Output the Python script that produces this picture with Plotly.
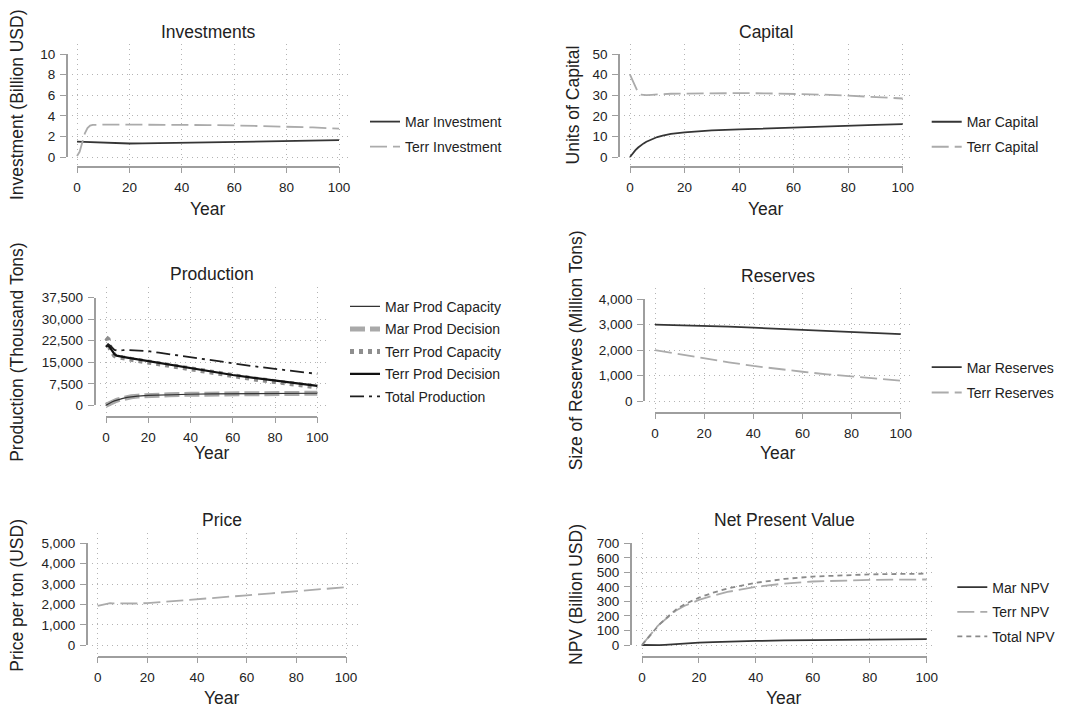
import plotly.graph_objects as go

W, H = 1071, 707
FONT = "Liberation Sans, Arial, sans-serif"

# ---------------- data ----------------
YEARS = [0, 1, 2, 3, 4, 5, 6, 8, 10, 12, 15, 20, 25, 30, 40, 50, 60, 70, 80, 90, 100]
X_TICKS = [0, 20, 40, 60, 80, 100]

MAR_INVEST = [1.50, 1.49, 1.47, 1.45, 1.43, 1.41, 1.40, 1.37, 1.35, 1.33, 1.32, 1.31, 1.32, 1.34,
              1.38, 1.43, 1.47, 1.51, 1.55, 1.59, 1.63]
TERR_INVEST = [0.10, 0.50, 1.40, 2.30, 2.80, 3.05, 3.12, 3.15, 3.15, 3.15, 3.15, 3.15, 3.15, 3.14,
               3.13, 3.10, 3.07, 3.02, 2.95, 2.87, 2.75]

MAR_CAPITAL = [0.0, 1.8, 3.3, 4.6, 5.7, 6.6, 7.4, 8.7, 9.7, 10.4, 11.2, 12.0, 12.5, 12.9,
               13.4, 13.9, 14.4, 14.8, 15.2, 15.6, 16.0]
TERR_CAPITAL = [40.0, 37.0, 33.5, 31.2, 30.3, 30.0, 30.0, 30.2, 30.4, 30.5, 30.7, 30.8, 30.9, 31.0,
                31.0, 30.9, 30.7, 30.3, 29.8, 29.2, 28.4]

MAR_PROD_CAP = [0, 500, 900, 1250, 1550, 1800, 2000, 2400, 2750, 2950, 3200, 3450, 3600, 3700,
                3850, 3950, 4000, 4050, 4100, 4150, 4200]
MAR_PROD_DEC = [0, 450, 850, 1200, 1500, 1750, 1980, 2380, 2730, 2950, 3200, 3450, 3600, 3700,
                3850, 3950, 4000, 4050, 4100, 4150, 4200]
TERR_PROD_CAP = [23600, 23000, 19800, 18300, 17400, 17000, 16800, 16500, 16250, 16000, 15650, 15050,
                 14400, 13750, 12550, 11350, 10200, 9200, 8250, 7300, 6400]
TERR_PROD_DEC = [20400, 21000, 20000, 18800, 17800, 17300, 17100, 16850, 16600, 16350, 16000, 15400,
                 14750, 14100, 12900, 11700, 10560, 9550, 8600, 7650, 6750]
TOTAL_PROD = [20400, 21300, 20800, 20000, 19300, 19100, 19050, 19200, 19300, 19250, 19150, 18850,
              18350, 17800, 16750, 15650, 14550, 13600, 12700, 11800, 10950]

RES_YEARS = [0, 10, 20, 30, 40, 50, 60, 70, 80, 90, 100]
MAR_RESERVES = [3000, 2985, 2960, 2925, 2885, 2845, 2805, 2760, 2715, 2670, 2630]
TERR_RESERVES = [2000, 1830, 1670, 1520, 1380, 1260, 1150, 1050, 960, 880, 800]

PRICE = [1930, 1960, 2000, 2040, 2060, 2065, 2060, 2050, 2045, 2045, 2050, 2065, 2110, 2160,
         2255, 2350, 2450, 2550, 2650, 2750, 2850]

MAR_NPV = [0, -1, -2, -2.5, -2.5, -2, -1, 1, 4, 7, 11, 16, 20, 23.5, 28, 31.5, 34, 36, 37.5, 38.8, 40]
TERR_NPV = [0, 25, 50, 75, 98, 120, 140, 175, 210, 238, 270, 310, 340, 365, 400, 423, 437, 444, 448, 450, 451]
TOTAL_NPV = [0, 24, 48, 72, 95, 118, 139, 176, 214, 245, 281, 326, 360, 389, 428, 455, 471, 480, 486, 489, 491]

INVEST_TICKS = [0, 2, 4, 6, 8, 10]
CAPITAL_TICKS = [0, 10, 20, 30, 40, 50]
PROD_TICKS = [0, 7500, 15000, 22500, 30000, 37500]
RES_TICKS = [0, 1000, 2000, 3000, 4000]
PRICE_TICKS = [0, 1000, 2000, 3000, 4000, 5000]
NPV_TICKS = [0, 100, 200, 300, 400, 500, 600, 700]

# ---------------- styles ----------------
DARK = "#353535"
LIGHT = "#ababab"
AXIS_GRAY = "#9e9e9e"
GRID = "#b4b4b4"
TEXT = "#222222"

# pixel geometry of each panel (layout only)
PANELS = [
    dict(title="Investments", ytitle="Investment (Billion USD)", yticks=INVEST_TICKS,
         axl=66.7, gl=72, gr=350, gt=43.5, gb=165, axb=166.7, x0=77, x100=339, y0=157, ytop=54,
         ytx=17, tity=32, yeary=209, leg=dict(tx=405, rows=[122, 147], gap=3.8)),
    dict(title="Capital", ytitle="Units of Capital", yticks=CAPITAL_TICKS,
         axl=619, gl=624, gr=912, gt=43.5, gb=165, axb=166.7, x0=630, x100=902.7, y0=157, ytop=54,
         ytx=573.3, tity=31.7, yeary=209.3, leg=dict(tx=966.7, rows=[122.3, 147], gap=3.8)),
    dict(title="Production", ytitle="Production (Thousand Tons)", yticks=PROD_TICKS,
         axl=94.5, gl=100, gr=328, gt=287, gb=414.5, axb=416.7, x0=106, x100=317.3, y0=405.3, ytop=297.7,
         ytx=17, tity=274, yeary=453, leg=dict(tx=385, rows=[307, 329, 352, 374, 397], gap=1.3)),
    dict(title="Reserves", ytitle="Size of Reserves (Million Tons)", yticks=RES_TICKS,
         axl=644, gl=649, gr=910, gt=288, gb=410.5, axb=412.7, x0=655, x100=900.7, y0=401, ytop=299.3,
         ytx=576, tity=276, yeary=452.7, leg=dict(tx=966.7, rows=[367.3, 392.7], gap=4.2)),
    dict(title="Price", ytitle="Price per ton (USD)", yticks=PRICE_TICKS,
         axl=86.7, gl=92, gr=357.7, gt=533.3, gb=654.5, axb=656.7, x0=97.7, x100=346, y0=645.3, ytop=543.3,
         ytx=16.7, tity=520, yeary=698.3, leg=None),
    dict(title="Net Present Value", ytitle="NPV (Billion USD)", yticks=NPV_TICKS,
         axl=630.7, gl=636, gr=935, gt=533.3, gb=654.5, axb=656.7, x0=642, x100=926.7, y0=645, ytop=543.3,
         ytx=576, tity=520, yeary=698.3, leg=dict(tx=992.3, rows=[587.3, 612.3, 636.7], gap=3.4)),
]

# series per panel: (name, x, y, color, width, dash, legend rank)
SERIES = [
    [("Mar Investment", YEARS, MAR_INVEST, DARK, 1.8, "solid", 1),
     ("Terr Investment", YEARS, TERR_INVEST, LIGHT, 1.8, "17px,6px", 2)],
    [("Mar Capital", YEARS, MAR_CAPITAL, DARK, 1.8, "solid", 1),
     ("Terr Capital", YEARS, TERR_CAPITAL, LIGHT, 1.8, "17px,6px", 2)],
    [("Mar Prod Decision", YEARS, MAR_PROD_DEC, "#a9a9a9", 5, "15px,5px", 2),
     ("Terr Prod Capacity", YEARS, TERR_PROD_CAP, "#8e8e8e", 5, "4px,5px", 3),
     ("Mar Prod Capacity", YEARS, MAR_PROD_CAP, "#333333", 1.2, "solid", 1),
     ("Terr Prod Decision", YEARS, TERR_PROD_DEC, "#111111", 2.2, "solid", 4),
     ("Total Production", YEARS, TOTAL_PROD, "#1e1e1e", 1.8, "14px,5px,3px,5px", 5)],
    [("Mar Reserves", RES_YEARS, MAR_RESERVES, DARK, 1.8, "solid", 1),
     ("Terr Reserves", RES_YEARS, TERR_RESERVES, LIGHT, 1.8, "17px,6px", 2)],
    [("Price", YEARS, PRICE, LIGHT, 1.8, "17px,6px", 1)],
    [("Mar NPV", YEARS, MAR_NPV, DARK, 1.8, "solid", 1),
     ("Terr NPV", YEARS, TERR_NPV, LIGHT, 1.8, "17px,6px", 2),
     ("Total NPV", YEARS, TOTAL_NPV, "#8a8a8a", 1.8, "5px,4px", 3)],
]


def axkey(letter, n):
    return f"{letter}axis" if n == 1 else f"{letter}axis{n}"


def axref(letter, n):
    return letter if n == 1 else f"{letter}{n}"


fig = go.Figure()
layout = {}
annotations = []

for i, (p, series) in enumerate(zip(PANELS, SERIES)):
    m = 2 * i + 1  # main axes (data + grid)
    t = 2 * i + 2  # tick axes (axis lines, ticks, labels)
    ymax = p["yticks"][-1]
    xppu = (p["x100"] - p["x0"]) / 100.0
    yppu = (p["y0"] - p["ytop"]) / ymax
    legname = None
    if p["leg"] is not None:
        legname = "legend" if i == 0 else f"legend{i + 1}"

    for (name, xs, ys, col, wd, dash, rank) in series:
        fig.add_trace(go.Scatter(
            x=xs, y=ys, name=name, mode="lines",
            line=dict(color=col, width=wd, dash=dash),
            xaxis=axref("x", m), yaxis=axref("y", m),
            showlegend=legname is not None,
            legend=legname if legname else "legend",
            legendgroup=f"g{i}_{name}", legendrank=rank,
            hoverinfo="x+y+name",
        ))

    # invisible trace to create the tick-axes subplot
    fig.add_trace(go.Scatter(
        x=X_TICKS, y=[p["yticks"][0]] * len(X_TICKS), mode="markers",
        marker=dict(opacity=0, size=1), showlegend=False, hoverinfo="skip",
        xaxis=axref("x", t), yaxis=axref("y", t),
    ))

    layout[axkey("x", m)] = dict(
        domain=[p["gl"] / W, p["gr"] / W],
        range=[(p["gl"] - p["x0"]) / xppu, (p["gr"] - p["x0"]) / xppu],
        anchor=axref("y", m), tickmode="array", tickvals=X_TICKS,
        showticklabels=False, ticks="", showline=False, zeroline=False,
        showgrid=True, gridcolor=GRID, gridwidth=1, griddash="1px,4px",
    )
    layout[axkey("y", m)] = dict(
        domain=[1 - p["gb"] / H, 1 - p["gt"] / H],
        range=[(p["y0"] - p["gb"]) / yppu, (p["y0"] - p["gt"]) / yppu],
        anchor=axref("x", m), tickmode="array", tickvals=p["yticks"][:-1],
        showticklabels=False, ticks="", showline=False, zeroline=False,
        showgrid=True, gridcolor=GRID, gridwidth=1, griddash="1px,4px",
    )
    layout[axkey("x", t)] = dict(
        domain=[p["x0"] / W, p["x100"] / W], range=[0, 100],
        anchor="free", position=1 - p["axb"] / H,
        tickmode="array", tickvals=X_TICKS, ticks="outside", ticklen=6,
        tickwidth=1.3, tickcolor=AXIS_GRAY, showline=True, linecolor=AXIS_GRAY,
        linewidth=1.5, showgrid=False, zeroline=False, automargin=False,
        tickfont=dict(size=13.5, color=TEXT, family=FONT), ticklabelstandoff=2,
    )
    layout[axkey("y", t)] = dict(
        domain=[1 - p["y0"] / H, 1 - p["ytop"] / H], range=[0, ymax],
        anchor="free", position=p["axl"] / W,
        tickmode="array", tickvals=p["yticks"], tickformat=",", ticks="outside",
        ticklen=6, tickwidth=1.3, tickcolor=AXIS_GRAY, showline=True,
        linecolor=AXIS_GRAY, linewidth=1.5, showgrid=False, zeroline=False, automargin=False,
        tickfont=dict(size=13.5, color=TEXT, family=FONT), ticklabelstandoff=2,
    )

    cx = (p["x0"] + p["x100"]) / 2.0
    annotations.append(dict(text=p["title"], x=cx / W, y=1 - p["tity"] / H, xref="paper",
                            yref="paper", showarrow=False, xanchor="center", yanchor="middle",
                            font=dict(size=17.5, color=TEXT, family=FONT)))
    annotations.append(dict(text="Year", x=cx / W, y=1 - p["yeary"] / H, xref="paper",
                            yref="paper", showarrow=False, xanchor="center", yanchor="middle",
                            font=dict(size=17.5, color=TEXT, family=FONT)))
    annotations.append(dict(text=p["ytitle"], x=p["ytx"] / W,
                            y=1 - ((p["gt"] + p["axb"]) / 2.0) / H, xref="paper", yref="paper",
                            showarrow=False, xanchor="center", yanchor="middle", textangle=-90,
                            font=dict(size=17.5, color=TEXT, family=FONT)))

    if legname:
        lg = p["leg"]
        rows = lg["rows"]
        layout[legname] = dict(
            x=(lg["tx"] - 40) / W, y=1 - (sum(rows) / len(rows)) / H,
            xanchor="left", yanchor="middle", bgcolor="rgba(0,0,0,0)", borderwidth=0,
            font=dict(size=14, color=TEXT, family=FONT), traceorder="grouped",
            tracegroupgap=lg["gap"], itemclick=False, itemdoubleclick=False,
        )

fig.update_layout(
    width=W, height=H, margin=dict(l=0, r=0, t=0, b=0, pad=0, autoexpand=False),
    paper_bgcolor="white", plot_bgcolor="rgba(0,0,0,0)",
    font=dict(family=FONT, color=TEXT), annotations=annotations,
    hovermode="closest", **layout,
)

fig.write_html(
    "out.html",
    config={"responsive": False, "displayModeBar": False},
    post_script="document.body.style.margin='0';document.body.style.padding='0';"
                "document.body.style.overflow='hidden';",
)
